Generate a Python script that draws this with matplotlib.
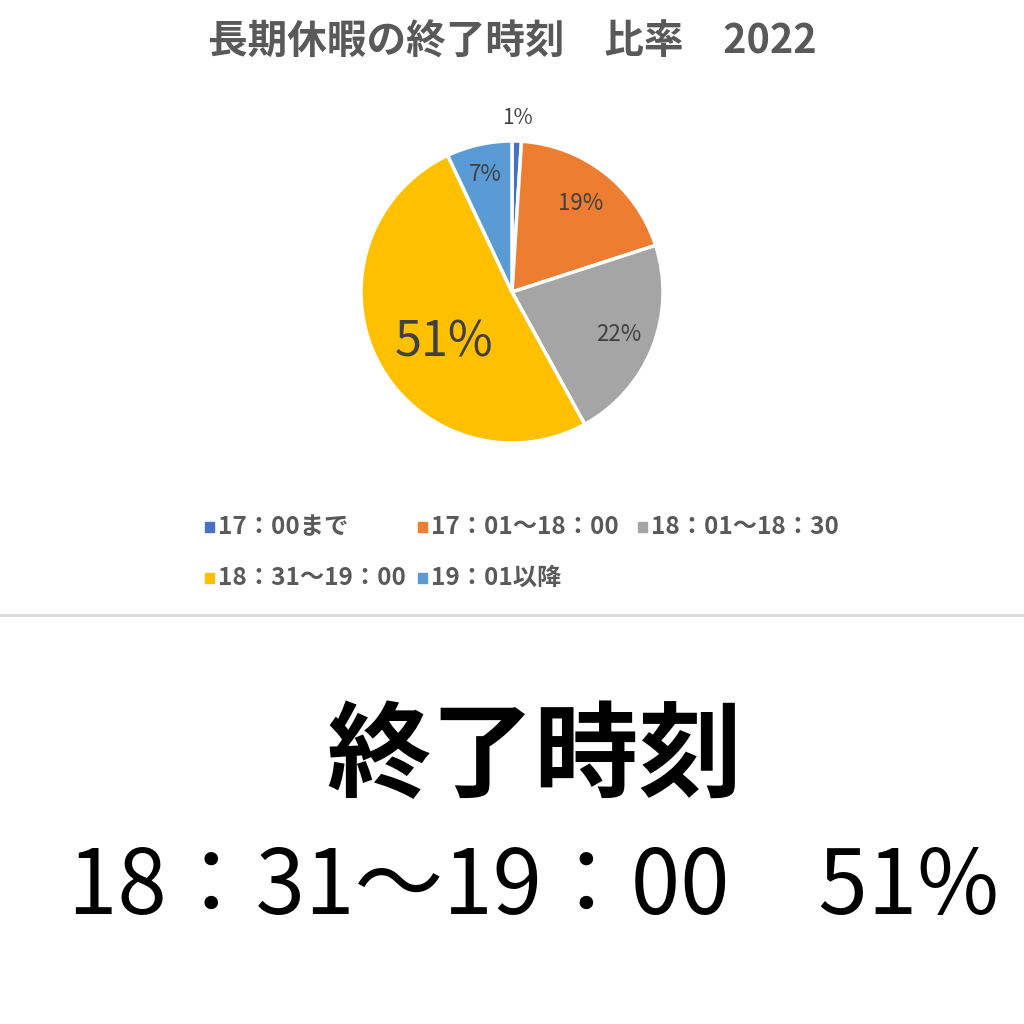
import numpy as np
import matplotlib.pyplot as plt
from matplotlib.patches import Rectangle

plt.rcParams['font.family'] = ['Noto Sans CJK JP', 'DejaVu Sans']

# data
categories = ['17：00まで', '17：01〜18：00', '18：01〜18：30', '18：31〜19：00', '19：01以降']
shares = [1, 19, 22, 51, 7]
colors = ['#4472C4', '#ED7D31', '#A5A5A5', '#FFC000', '#5B9BD5']
title = '長期休暇の終了時刻　比率　2022'
headline = '終了時刻'
answer = '18：31〜19：00　51%'

W = H = 1024
fig = plt.figure(figsize=(10.24, 10.24), dpi=100)
fig.patch.set_facecolor('white')

def fx(px):
    return px / W

def fy(py):
    return 1 - py / H

# pie
cx, cy, r = 512, 292, 151
ax = fig.add_axes([fx(cx - r), fy(cy + r), 2 * r / W, 2 * r / H])
wedges, _ = ax.pie(shares, colors=colors, startangle=90, counterclock=False,
                   radius=1.0, wedgeprops=dict(edgecolor='white', linewidth=2.5))
ax.set_xlim(-1, 1)
ax.set_ylim(-1, 1)
ax.set_aspect('equal')
ax.axis('off')

# label placement: radius fraction, angle shift (deg), font size
label_style = [(1.15, 0, 15), (0.74, 0, 16), (0.76, 0, 16), (0.56, 10, 35), (0.80, 0, 16)]
for w, v, (rf, dth, fs) in zip(wedges, shares, label_style):
    mid = np.deg2rad((w.theta1 + w.theta2) / 2 + dth)
    ax.text(rf * np.cos(mid), rf * np.sin(mid), f'{v}%', ha='center', va='center',
            fontsize=fs, color='#404040', clip_on=False)

# title
fig.text(fx(512), fy(42), title, ha='center', va='center', fontsize=28.5,
         fontweight='bold', color='#595959')

# legend (manual two-row layout like the source)
rows = [[(0, 205), (1, 418), (2, 638)], [(3, 205), (4, 418)]]
row_y = [527, 578]
for row, y in zip(rows, row_y):
    for idx, x in row:
        fig.patches.append(Rectangle((fx(x), fy(y + 5)), 9 / W, 10 / H,
                                     transform=fig.transFigure, color=colors[idx]))
        fig.text(fx(x + 13), fy(y), categories[idx], ha='left', va='center',
                 fontsize=17.5, fontweight='bold', color='#595959')

# divider
fig.add_artist(plt.Line2D([0, 1], [fy(615), fy(615)], transform=fig.transFigure,
                          color='#d9d9d9', linewidth=2))

# bottom texts
fig.text(fx(535), fy(758), headline, ha='center', va='center', fontsize=75,
         fontweight='bold', color='black')
fig.text(fx(534), fy(889), answer, ha='center', va='center', fontsize=64,
         color='black')

fig.savefig('out.png', dpi=100, facecolor='white')
